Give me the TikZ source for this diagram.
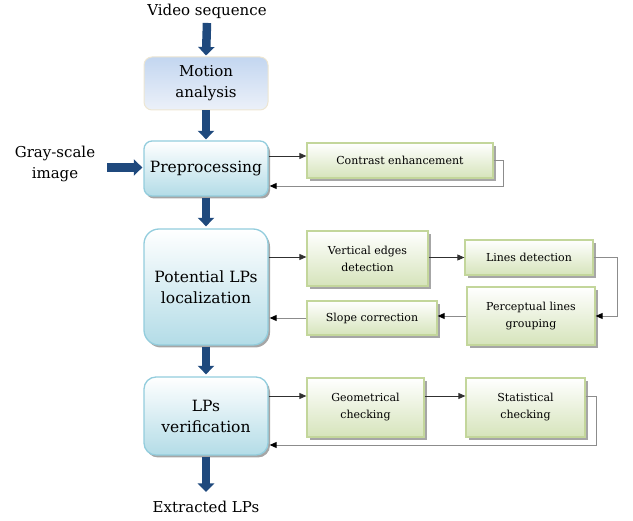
\documentclass[tikz,border=0pt]{standalone}
\usepackage{fontspec}
\setmainfont{DejaVu Serif}
\usetikzlibrary{arrows.meta,shadows}
\definecolor{bigarrow}{HTML}{1F497D}
\definecolor{motiontop}{HTML}{C3D6F0}
\definecolor{motionbot}{HTML}{ECF1F9}
\definecolor{motionedge}{HTML}{EDE6D2}
\definecolor{boxedge}{HTML}{93CDDD}
\definecolor{boxfill}{HTML}{B3DCE7}
\definecolor{greenedge}{HTML}{C3D69B}
\definecolor{greenfill}{HTML}{D6E4BB}
\definecolor{shadowgray}{HTML}{A6A6A6}
\definecolor{fwdline}{HTML}{303030}
\definecolor{retline}{HTML}{8C8C8C}
\begin{document}
\begin{tikzpicture}[x=1pt,y=-1pt,
  outtext/.style={align=center, font=\fontsize{15}{21}\selectfont, inner sep=1pt},
  mainbox/.style={draw=boxedge, line width=1.3pt, rounded corners=8pt,
    top color=white, bottom color=boxfill, minimum width=124pt,
    align=center, font=\fontsize{15.5}{21}\selectfont,
    drop shadow={shadow xshift=2pt, shadow yshift=-2.5pt, fill=shadowgray, opacity=1}},
  motionbox/.style={draw=motionedge, line width=1pt, rounded corners=8pt,
    top color=motiontop, bottom color=motionbot, minimum width=124pt,
    align=center, font=\fontsize{15}{21}\selectfont},
  greenbox/.style={draw=greenedge, line width=1.3pt,
    top color=white, bottom color=greenfill,
    align=center, font=\fontsize{11}{17}\selectfont, inner sep=2pt,
    drop shadow={shadow xshift=3pt, shadow yshift=-3pt, fill=shadowgray, opacity=1}},
  bigarr/.style={draw=bigarrow, line width=8.5pt, -{Triangle[width=16pt,length=8.5pt]}},
  fwd/.style={draw=fwdline, line width=0.8pt, -{Triangle[width=6pt,length=7pt]}},
  ret/.style={draw=retline, line width=0.9pt, -{Triangle[width=6pt,length=7pt,color=black,fill=black]}}
]
\useasboundingbox (0,0) rectangle (633,521);

% outer texts
\node[outtext] (vid) at (207,11.5) {Video sequence};
\node[outtext] (gray) at (55,164) {Gray-scale\\image};
\node[outtext] (ext) at (206,507) {Extracted LPs};

% main column
\node[motionbox, minimum height=53pt] (motion) at (206,83.5) {Motion\\analysis};
\node[mainbox, minimum height=55pt] (pre) at (206,168.5) {Preprocessing};
\node[mainbox, minimum height=116pt, rounded corners=15pt] (pot) at (206,287) {Potential LPs\\localization};
\node[mainbox, minimum height=78pt, rounded corners=12pt] (ver) at (206,416) {LPs\\verification};

% green boxes
\node[greenbox, minimum width=186pt, minimum height=35pt] (ce) at (400,160.5) {Contrast enhancement};
\node[greenbox, minimum width=121pt, minimum height=55pt] (ved) at (367.5,258.5) {Vertical edges\\detection};
\node[greenbox, minimum width=128pt, minimum height=35pt] (ld) at (529,257.5) {Lines detection};
\node[greenbox, minimum width=128pt, minimum height=58pt] (plg) at (531,316) {Perceptual lines\\grouping};
\node[greenbox, minimum width=130pt, minimum height=34pt] (sc) at (372,318) {Slope correction};
\node[greenbox, minimum width=117pt, minimum height=59pt] (geo) at (365.5,407.5) {Geometrical\\checking};
\node[greenbox, minimum width=119pt, minimum height=59pt] (stat) at (525.5,407.5) {Statistical\\checking};

% big arrows
\coordinate (gsa) at (107,167.5);
\draw[bigarr] ([yshift=-3pt]vid.south) -- ([yshift=1pt]motion.north);
\draw[bigarr] (motion.south) -- ([yshift=1pt]pre.north);
\draw[bigarr] ([yshift=-1pt]pre.south) -- ([yshift=2pt]pot.north);
\draw[bigarr] ([yshift=-1pt]pot.south) -- ([yshift=2pt]ver.north);
\draw[bigarr] ([yshift=-1pt]ver.south) -- ([yshift=8pt]ext.north);
\draw[bigarr] (gsa) -- ([xshift=-1pt]gsa -| pre.west);

% thin connectors
\draw[fwd] ([yshift=12.5pt]pre.east) -- ([yshift=12.5pt]pre.east -| ce.west);
\draw[ret] (ce.east) -- ++(10,0) |- ([yshift=-17.5pt,xshift=1pt]pre.east);

\draw[fwd] ([yshift=30pt]pot.east) -- ([yshift=30pt]pot.east -| ved.west);
\draw[fwd] (ld.west -| ved.east) -- (ld.west);
\draw[ret] (ld.east) -- ++(24,0) |- (plg.east);
\draw[ret] (plg.west) -- (plg.west -| sc.east);
\draw[ret] (sc.west) -- ([xshift=1pt]sc.west -| pot.east);

\draw[fwd] ([yshift=20pt]ver.east) -- ([yshift=20pt]ver.east -| geo.west);
\draw[fwd] ([yshift=11.5pt]geo.east) -- ([yshift=11.5pt]geo.east -| stat.west);
\draw[ret] ([yshift=11.5pt]stat.east) -- ++(11,0) |- ([yshift=-29pt,xshift=1pt]ver.east);
\end{tikzpicture}
\end{document}
